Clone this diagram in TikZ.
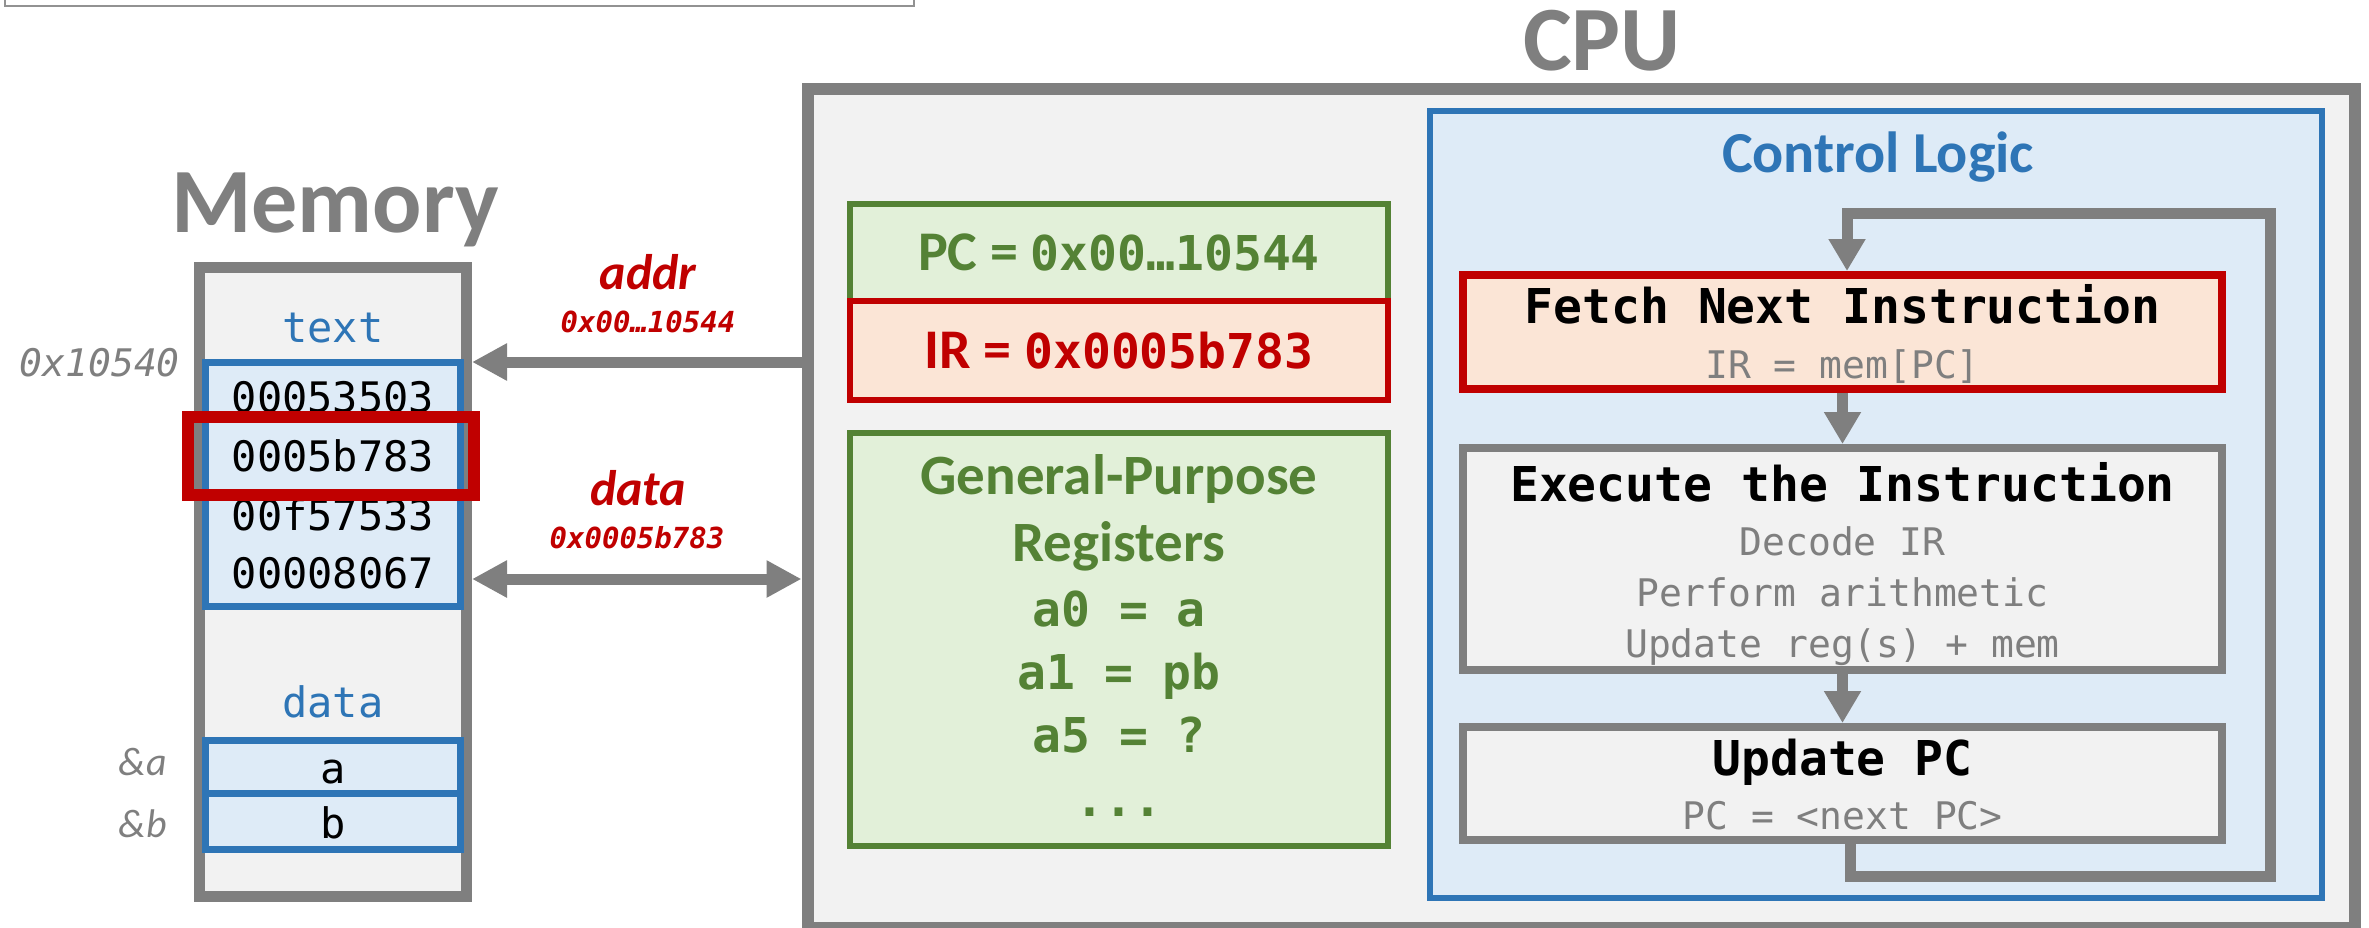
\documentclass[tikz,border=0pt]{standalone}
\usepackage{fontspec}
\setmainfont{Carlito}
\newfontfamily\monofam{DejaVu Sans Mono}
\usetikzlibrary{arrows.meta}
\definecolor{gry}{HTML}{7F7F7F}
\definecolor{lgry}{HTML}{F2F2F2}
\definecolor{blu}{HTML}{2E75B6}
\definecolor{lblu}{HTML}{DEEBF7}
\definecolor{grn}{HTML}{548235}
\definecolor{lgrn}{HTML}{E2F0D9}
\definecolor{rd}{HTML}{C00000}
\definecolor{lrd}{HTML}{FBE5D6}
\newcommand\fsz[1]{\fontsize{#1}{#1}\selectfont}
\begin{document}
\begin{tikzpicture}[x=1pt,y=-1pt,
  box/.style={draw, inner sep=0pt},
  txt/.style={inner sep=0pt, anchor=base},
  bigarrow/.style={draw=gry, line width=11pt,
    -{Triangle[length=35pt,width=35pt]}},
  dblarrow/.style={draw=gry, line width=11pt,
    {Triangle[length=35pt,width=35pt]}-{Triangle[length=35pt,width=35pt]}},
  flow/.style={draw=gry, line width=11pt, line join=miter,
    -{Triangle[length=32pt,width=35pt]}},
  title/.style={txt, font=\bfseries\fsz{92}, text=gry},
  memtxt/.style={txt, font=\monofam\fsz{42}},
  steptitle/.style={txt, font=\monofam\bfseries\fsz{48}},
  stepnote/.style={txt, font=\monofam\fsz{38}, text=gry},
  regtxt/.style={txt, font=\monofam\bfseries\fsz{48}, text=grn},
]
\useasboundingbox (0,0) rectangle (2369,927);

% frame at the top edge
\node[box, draw=gry!85, line width=2.5pt, fill=white, minimum width=909pt,
      minimum height=30pt] (topframe) at (459.5,-9) {};

% ---------------- memory ----------------
\node[title] (memtitle) at (335,232) {Memory};
\node[box, draw=gry, fill=lgry, line width=11pt, minimum width=267pt,
      minimum height=629pt] (mem) at (333,582) {};
\node[box, draw=blu, fill=lblu, line width=7pt, minimum width=255pt,
      minimum height=244pt] (textseg) at (333,484.5) {};
\node[box, draw=blu, fill=lblu, line width=7pt, minimum width=255pt,
      minimum height=53pt] (cella) at (333,766.5) {};
\node[box, draw=blu, fill=lblu, line width=7pt, minimum width=255pt,
      minimum height=56pt] (cellb) at (333,821) {};

\node[memtxt, text=blu] (textlbl) at (333,342) {text};
\node[memtxt, text=blu] (datalbl) at (333,717) {data};
\node[txt, anchor=base east, font=\monofam\itshape\fsz{38}, text=gry]
  (addrtext) at (180,376) {0x10540};
\node[memtxt] (w1) at (333,412) {00053503};
\node[memtxt] (w2) at (333,471) {0005b783};
\node[memtxt] (w3) at (333,530) {00f57533};
\node[memtxt] (w4) at (333,588) {00008067};
\node[memtxt] (va) at (333,783) {a};
\node[memtxt] (vb) at (333,838) {b};
\node[txt, anchor=base east, font=\itshape\fsz{40}, text=gry] (adra) at (167,775) {\&a};
\node[txt, anchor=base east, font=\itshape\fsz{40}, text=gry] (adrb) at (167,837) {\&b};

\node[box, draw=rd, line width=12pt, minimum width=286pt,
      minimum height=78pt] (cur) at (331,456) {};

% ---------------- CPU ----------------
\node[title] (cputitle) at (1602,70) {CPU};
\node[box, draw=gry, fill=lgry, line width=12pt, minimum width=1547.5pt,
      minimum height=839pt] (cpu) at (1581.25,508.5) {};

% registers
\node[box, draw=grn, fill=lgrn, line width=6pt, minimum width=538pt,
      minimum height=97pt] (pc) at (1119,252.5) {};
\node[box, draw=rd, fill=lrd, line width=6pt, minimum width=538pt,
      minimum height=99pt] (ir) at (1119,350.5) {};
\node[box, draw=grn, fill=lgrn, line width=6pt, minimum width=538pt,
      minimum height=413pt] (gpr) at (1119,639.5) {};

\node[txt, font=\bfseries\fsz{56}, text=grn] (pcval) at (1119,270)
  {PC = {\monofam\fsz{48}0x00…10544}};
\node[txt, font=\bfseries\fsz{56}, text=rd] (irval) at (1119,368)
  {IR = {\monofam\fsz{48}0x0005b783}};
\node[txt, font=\bfseries\fsz{57}, text=grn] (gpr1) at (1119,494) {General-Purpose};
\node[txt, font=\bfseries\fsz{57}, text=grn] (gpr2) at (1119,561) {Registers};
\node[regtxt] (ra0) at (1119,626) {a0 = a};
\node[regtxt] (ra1) at (1119,689) {a1 = pb};
\node[regtxt] (ra5) at (1119,752) {a5 = ?};
\node[regtxt] (rmore) at (1119,816) {...};

% control logic
\node[box, draw=blu, fill=lblu, line width=6pt, minimum width=892pt,
      minimum height=787pt] (ctl) at (1876,504.5) {};
\node[txt, font=\bfseries\fsz{58}, text=blu] (ctltitle) at (1878,172) {Control Logic};

\node[box, draw=rd, fill=lrd, line width=8pt, minimum width=759pt,
      minimum height=114pt] (fetch) at (1842.5,332) {};
\node[box, draw=gry, fill=lgry, line width=8pt, minimum width=759pt,
      minimum height=222pt] (exec) at (1842.5,559) {};
\node[box, draw=gry, fill=lgry, line width=8pt, minimum width=759pt,
      minimum height=113pt] (upd) at (1842.5,783.5) {};

\node[steptitle] (fetchT) at (1842.5,323) {Fetch Next Instruction};
\node[stepnote] (fetchN) at (1842.5,378) {IR = mem[PC]};
\node[steptitle] (execT) at (1842.5,501) {Execute the Instruction};
\node[stepnote] (execN1) at (1842.5,555) {Decode IR};
\node[stepnote] (execN2) at (1842.5,606) {Perform arithmetic};
\node[stepnote] (execN3) at (1842.5,657) {Update reg(s) + mem};
\node[steptitle] (updT) at (1842.5,775) {Update PC};
\node[stepnote] (updN) at (1842.5,829) {PC = <next PC>};

% control flow
\draw[flow] (fetch.south) -- (exec.north);
\draw[flow] (exec.south) -- (upd.north);
\coordinate (loopbr) at (2270,876);
\coordinate (looptr) at (2270,213);
\draw[flow] ([xshift=7.5pt]upd.south) |- (loopbr) -- (looptr)
  -| ([xshift=4.5pt]fetch.north);

% buses between CPU and memory
\coordinate (addrrow) at (0,362);
\coordinate (datarow) at (0,579);
\draw[bigarrow] (cpu.west |- addrrow) -- (mem.east |- addrrow);
\draw[dblarrow] (mem.east |- datarow) -- (cpu.west |- datarow);

\node[txt, font=\bfseries\itshape\fsz{50}, text=rd] (addrlbl) at (648,289) {addr};
\node[txt, font=\monofam\bfseries\itshape\fsz{29}, text=rd] (addrval) at (648,332) {0x00…10544};
\node[txt, font=\bfseries\itshape\fsz{50}, text=rd] (datalbl2) at (638,505) {data};
\node[txt, font=\monofam\bfseries\itshape\fsz{29}, text=rd] (dataval) at (637,548) {0x0005b783};
\end{tikzpicture}
\end{document}
